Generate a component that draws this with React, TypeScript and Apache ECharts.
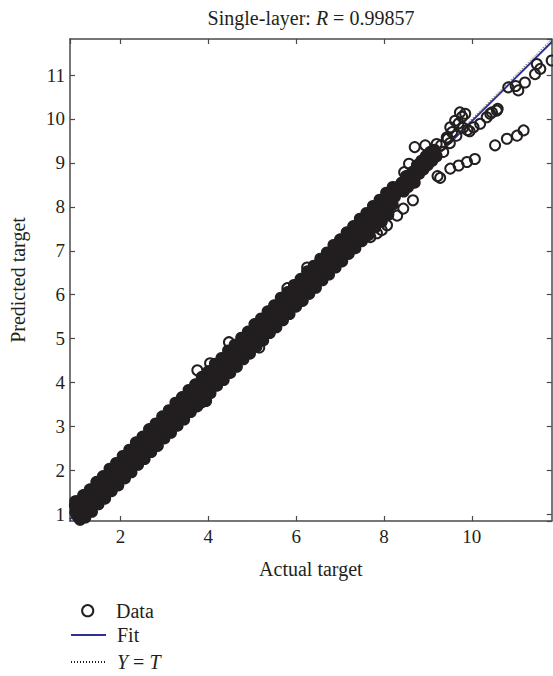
import React, { useEffect, useRef } from "react";
import * as echarts from "echarts";

const AXIS_MIN = 0.85;
const AXIS_MAX = 11.82;

const titleText = "Single-layer: {i|R} = 0.99857";
const xName = "Actual target";
const yName = "Predicted target";

// dense band (actual, predicted)
const bandUpper: [number, number][] = [
  [1.0,1.17],[1.1,1.26],[1.2,1.36],[1.3,1.44],[1.4,1.56],[1.5,1.66],[1.6,1.74],[1.7,1.86],[1.8,1.95],[1.9,2.04],
  [2.0,2.16],[2.1,2.26],[2.2,2.34],[2.3,2.46],[2.4,2.55],[2.5,2.64],[2.6,2.76],[2.7,2.86],[2.8,2.94],[2.9,3.06],
  [3.0,3.15],[3.1,3.24],[3.2,3.36],[3.3,3.46],[3.4,3.54],[3.5,3.66],[3.6,3.75],[3.7,3.84],[3.8,3.96],[3.9,4.05],
  [4.0,4.14],[4.1,4.26],[4.2,4.34],[4.3,4.45],[4.4,4.56],[4.5,4.64],[4.6,4.75],[4.7,4.86],[4.8,4.94],[4.9,5.05],
  [5.0,5.16],[5.1,5.24],[5.2,5.35],[5.3,5.46],[5.4,5.54],[5.5,5.65],[5.6,5.76],[5.7,5.84],[5.8,5.95],[5.9,6.06],
  [6.0,6.14],[6.1,6.25],[6.2,6.36],[6.3,6.44],[6.4,6.55],[6.5,6.66],[6.6,6.74],[6.7,6.85],[6.8,6.96],[6.9,7.04],
  [7.0,7.15],[7.1,7.26],[7.2,7.36],[7.3,7.46],[7.4,7.55],[7.5,7.65],[7.6,7.76],[7.7,7.84],[7.8,7.95],[7.9,8.06],
  [8.0,8.14],[8.1,8.26],[8.2,8.35],[8.3,8.45]
];
const bandCenter: [number, number][] = [
  [0.97,1.05],[1.05,1.08],[1.15,1.17],[1.25,1.24],[1.35,1.37],[1.45,1.44],[1.55,1.56],[1.65,1.63],[1.75,1.76],[1.85,1.84],
  [1.95,1.97],[2.05,2.03],[2.15,2.16],[2.25,2.24],[2.35,2.37],[2.45,2.43],[2.55,2.56],[2.65,2.64],[2.75,2.77],[2.85,2.83],
  [2.95,2.96],[3.05,3.04],[3.15,3.17],[3.25,3.23],[3.35,3.36],[3.45,3.44],[3.55,3.57],[3.65,3.63],[3.75,3.76],[3.85,3.84],
  [3.95,3.96],[4.05,4.04],[4.15,4.17],[4.25,4.23],[4.35,4.36],[4.45,4.44],[4.55,4.57],[4.65,4.63],[4.75,4.76],[4.85,4.84],
  [4.95,4.96],[5.05,5.04],[5.15,5.17],[5.25,5.23],[5.35,5.36],[5.45,5.44],[5.55,5.57],[5.65,5.63],[5.75,5.76],[5.85,5.84],
  [5.95,5.96],[6.05,6.04],[6.15,6.17],[6.25,6.23],[6.35,6.36],[6.45,6.44],[6.55,6.57],[6.65,6.63],[6.75,6.76],[6.85,6.84],
  [6.95,6.96],[7.05,7.04],[7.15,7.17],[7.25,7.23],[7.35,7.36],[7.45,7.44],[7.55,7.57],[7.65,7.63],[7.75,7.76],[7.85,7.84],
  [7.95,7.96],[8.05,8.04],[8.15,8.17],[8.25,8.23],[8.35,8.36]
];
const bandLower: [number, number][] = [
  [1.05,0.92],[1.1,0.96],[1.2,1.04],[1.3,1.16],[1.4,1.25],[1.5,1.34],[1.6,1.46],[1.7,1.55],[1.8,1.64],[1.9,1.76],
  [2.0,1.85],[2.1,1.94],[2.2,2.06],[2.3,2.15],[2.4,2.24],[2.5,2.36],[2.6,2.45],[2.7,2.54],[2.8,2.66],[2.9,2.75],
  [3.0,2.84],[3.1,2.96],[3.2,3.05],[3.3,3.14],[3.4,3.26],[3.5,3.35],[3.6,3.44],[3.7,3.55],[3.8,3.62],[3.9,3.72],
  [4.0,3.84],[4.1,3.95],[4.2,4.05],[4.3,4.16],[4.4,4.25],[4.5,4.34],[4.6,4.46],[4.7,4.55],[4.8,4.64],[4.9,4.76],
  [5.0,4.85],[5.1,4.94],[5.2,5.06],[5.3,5.15],[5.4,5.24],[5.5,5.36],[5.6,5.45],[5.7,5.54],[5.8,5.66],[5.9,5.75],
  [6.0,5.84],[6.1,5.96],[6.2,6.05],[6.3,6.14],[6.4,6.26],[6.5,6.35],[6.6,6.44],[6.7,6.56],[6.8,6.65],[6.9,6.74],
  [7.0,6.86],[7.1,6.95],[7.2,7.04],[7.3,7.16],[7.4,7.25],[7.5,7.33],[7.6,7.44],[7.7,7.55],[7.8,7.64],[7.9,7.74],
  [8.0,7.86],[8.1,7.95],[8.2,8.05]
];
const bandOuterUpper: [number, number][] = [
  [1.0,1.30],[1.15,1.44],[1.3,1.57],[1.45,1.74],[1.6,1.87],[1.75,2.04],[1.9,2.17],[2.05,2.33],[2.2,2.47],[2.35,2.64],
  [2.5,2.77],[2.65,2.94],[2.8,3.07],[2.95,3.23],[3.1,3.37],[3.25,3.54],[3.4,3.67],[3.55,3.83],[3.7,3.96],[3.85,4.13],
  [4.0,4.26],[4.15,4.43],[4.3,4.56],[4.45,4.73],[4.6,4.86],[4.75,5.02],[4.9,5.16],[5.05,5.33],[5.2,5.46],[5.35,5.62],
  [5.5,5.76],[5.65,5.93],[5.8,6.06],[5.95,6.22],[6.1,6.36],[6.25,6.53],[6.4,6.66],[6.55,6.82],[6.7,6.96],[6.85,7.13],
  [7.0,7.26],[7.15,7.42],[7.3,7.56],[7.45,7.73],[7.6,7.86],[7.75,8.02],[7.9,8.16],[8.05,8.32],[8.2,8.45]
];
const bandOuterLower: [number, number][] = [
  [1.2,0.93],[1.35,1.06],[1.5,1.23],[1.65,1.36],[1.8,1.53],[1.95,1.66],[2.1,1.82],[2.25,1.96],[2.4,2.13],[2.55,2.26],
  [2.7,2.42],[2.85,2.56],[3.0,2.73],[3.15,2.86],[3.3,3.02],[3.45,3.16],[3.6,3.33],[3.75,3.46],[3.9,3.62],[4.05,3.76],
  [4.2,3.93],[4.35,4.06],[4.5,4.22],[4.65,4.36],[4.8,4.53],[4.95,4.66],[5.1,4.82],[5.25,4.96],[5.4,5.13],[5.55,5.26],
  [5.7,5.42],[5.85,5.56],[6.0,5.73],[6.15,5.86],[6.3,6.02],[6.45,6.16],[6.6,6.33],[6.75,6.46],[6.9,6.62],[7.05,6.76],
  [7.2,6.93],[7.35,7.06],[7.5,7.22],[7.65,7.36],[7.8,7.53],[7.95,7.66],[8.1,7.82]
];
const bandStart: [number, number][] = [
  [0.97,1.30],[1.0,1.10],[1.02,0.96],[1.08,0.88],[0.96,1.20],[3.85,3.55],[3.95,3.58]
];
const bandTop: [number, number][] = [
  [8.4,8.55],[8.45,8.35],[8.5,8.7],[8.55,8.45],[8.6,8.6],[8.65,8.8],[8.7,8.55],[8.75,8.95],[8.8,8.75],[8.85,9.05],
  [8.9,8.85],[8.95,9.15],[9.0,8.95],[9.05,9.25],[9.1,9.05],[9.15,9.3],[9.2,9.15],[9.3,9.4],[9.35,9.25],[9.45,9.55],
  [9.5,9.45],[9.55,9.7],[9.65,9.62],[9.7,9.9],[9.8,9.8],[9.9,9.75]
];
const outliers: [number, number][] = [
  [3.75,4.28],[4.04,4.44],[4.47,4.92],[5.16,4.80],[5.80,6.15],[6.25,6.62],
  [7.69,7.31],[7.84,7.40],[7.95,7.47],[8.07,7.58],[8.30,7.80],[8.44,7.96],[8.66,8.15],
  [8.70,9.36],[8.94,9.40],[8.57,8.98],[8.46,8.79],[9.20,9.43],[9.43,9.58],[9.51,9.81],[9.62,9.96],[9.73,10.15],[9.85,10.12],[9.78,10.05],
  [10.04,9.81],[10.19,9.89],[10.34,10.04],[10.46,10.15],[10.57,10.19],[10.42,10.12],[10.59,10.23],[9.95,9.72],
  [10.83,10.72],[11.06,10.65],[11.21,10.83],[11.44,11.02],[11.48,11.25],[11.56,11.14],[11.82,11.33],[11.0,10.75],
  [10.53,9.40],[10.80,9.55],[11.03,9.62],[11.18,9.74],
  [9.22,8.70],[9.28,8.66],[9.51,8.87],[9.70,8.94],[9.89,9.02],[10.07,9.09]
];
const fitLine: [number, number][] = [[0.85, 0.89], [11.82, 11.75]];
const identityLine: [number, number][] = [[0.85, 0.85], [11.82, 11.82]];

const FONT = '"Liberation Serif", "Times New Roman", serif';
const INK = "#231f20";
const AXIS_COLOR = "#4a4a4a";
const FIT_COLOR = "#2e3192";

export default function App() {
  const ref = useRef<HTMLDivElement>(null);
  useEffect(() => {
    if (!ref.current) return;
    const chart = echarts.init(ref.current, undefined, { renderer: "svg" });
    const intLabel = (v: number) => (Math.abs(v - Math.round(v)) < 1e-6 ? String(Math.round(v)) : "");
    const axisLine = { show: true, onZero: false, lineStyle: { color: AXIS_COLOR, width: 1.5 } };
    const axisTick = { show: true, inside: true, length: 5, lineStyle: { color: AXIS_COLOR, width: 1.2 } };
    const labelStyle = { fontFamily: FONT, fontSize: 19, color: INK };
    const band = [...bandStart, ...bandOuterLower, ...bandOuterUpper, ...bandLower, ...bandCenter, ...bandUpper];
    const ringData = [...band, ...bandTop, ...outliers];
    const coreData = [...band, ...bandTop.filter((p) => p[0] <= 9.2)];
    const legendBase = {
      orient: "vertical",
      left: 70,
      padding: 0,
      itemWidth: 35,
      itemHeight: 11,
      selectedMode: false,
      formatter: (n: string) => (n === "Y = T" ? "{i|Y} = {i|T}" : n),
      textStyle: {
        fontFamily: FONT,
        fontSize: 20,
        color: INK,
        padding: [0, 0, 0, 6],
        rich: { i: { fontFamily: FONT, fontSize: 20, fontStyle: "italic", color: INK } },
      },
    };
    const hiddenDot = { color: "rgba(0,0,0,0)", borderWidth: 0, borderColor: "rgba(0,0,0,0)" };
    chart.setOption({
      animation: false,
      backgroundColor: "#ffffff",
      graphic: [
        {
          type: "text",
          x: 311,
          y: 18,
          style: {
            text: titleText,
            fontFamily: FONT,
            fontSize: 20,
            fill: INK,
            align: "center",
            verticalAlign: "middle",
            rich: { i: { fontFamily: FONT, fontSize: 20, fontStyle: "italic", fill: INK } },
          },
        },
        {
          type: "circle",
          shape: { cx: 87.7, cy: 610.7, r: 5.6 },
          style: { fill: "none", stroke: INK, lineWidth: 2 },
        },
        {
          type: "text",
          x: 116,
          y: 610.7,
          style: { text: "Data", fontFamily: FONT, fontSize: 20, fill: INK, align: "left", verticalAlign: "middle" },
        },
      ],
      grid: { left: 70, right: 1.3, top: 39, bottom: 155, containLabel: false },
      legend: [
        { ...legendBase, data: ["Fit"], top: 625, itemStyle: hiddenDot },
        { ...legendBase, data: ["Y = T"], top: 652, itemStyle: hiddenDot },
      ],
      xAxis: [
        {
          type: "value",
          min: AXIS_MIN,
          max: AXIS_MAX,
          minInterval: 2,
          maxInterval: 2,
          position: "bottom",
          axisLine,
          axisTick,
          splitLine: { show: false },
          axisLabel: { ...labelStyle, margin: 6, formatter: intLabel, showMinLabel: false, showMaxLabel: false },
          name: xName,
          nameLocation: "middle",
          nameGap: 38,
          nameTextStyle: { fontFamily: FONT, fontSize: 20, color: INK },
        },
        {
          type: "value",
          min: AXIS_MIN,
          max: AXIS_MAX,
          minInterval: 2,
          maxInterval: 2,
          position: "top",
          axisLine,
          axisTick,
          splitLine: { show: false },
          axisLabel: { show: false },
        },
      ],
      yAxis: [
        {
          type: "value",
          min: AXIS_MIN,
          max: AXIS_MAX,
          minInterval: 1,
          maxInterval: 1,
          position: "left",
          axisLine,
          axisTick,
          splitLine: { show: false },
          axisLabel: { ...labelStyle, margin: 5, formatter: intLabel, showMinLabel: false, showMaxLabel: false },
          name: yName,
          nameLocation: "middle",
          nameGap: 42,
          nameTextStyle: { fontFamily: FONT, fontSize: 20, color: INK },
        },
        {
          type: "value",
          min: AXIS_MIN,
          max: AXIS_MAX,
          minInterval: 1,
          maxInterval: 1,
          position: "right",
          axisLine,
          axisTick,
          splitLine: { show: false },
          axisLabel: { show: false },
        },
      ],
      series: [
        {
          name: "Fit",
          type: "line",
          z: 1,
          xAxisIndex: 0,
          yAxisIndex: 0,
          data: fitLine,
          symbol: "none",
          lineStyle: { color: FIT_COLOR, width: 2 },
          itemStyle: { color: FIT_COLOR },
        },
        {
          name: "Y = T",
          type: "line",
          z: 1,
          xAxisIndex: 0,
          yAxisIndex: 0,
          data: identityLine,
          symbol: "none",
          lineStyle: { color: INK, width: 1, type: [1, 2] },
          itemStyle: { color: INK },
        },
        {
          name: "Data",
          type: "scatter",
          z: 4,
          xAxisIndex: 0,
          yAxisIndex: 0,
          symbol: "circle",
          symbolSize: 10,
          clip: true,
          data: ringData,
          itemStyle: { color: "rgba(255,255,255,0)", borderColor: INK, borderWidth: 2, opacity: 1 },
          emphasis: { disabled: true },
        },
        {
          name: "Data",
          type: "scatter",
          z: 3,
          xAxisIndex: 0,
          yAxisIndex: 0,
          symbol: "circle",
          symbolSize: 11,
          clip: true,
          data: coreData,
          itemStyle: { color: INK, borderWidth: 0, opacity: 1 },
          emphasis: { disabled: true },
        },
      ],
    });
    return () => chart.dispose();
  }, []);
  return <div ref={ref} style={{ position: "absolute", left: 0, top: 0, width: 553, height: 676 }} />;
}
